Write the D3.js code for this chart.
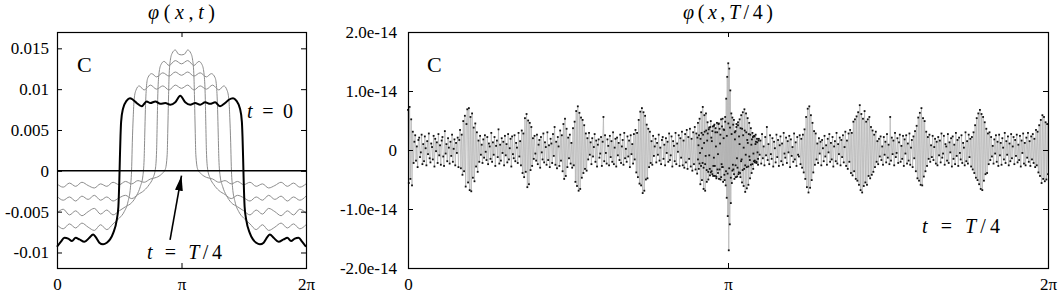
<!DOCTYPE html>
<html>
<head>
<meta charset="utf-8">
<script src="https://cdn.jsdelivr.net/npm/d3@7"></script>
</head>
<body style="margin:0;background:#fff">
<svg id="chart" width="1059" height="294"></svg>
<script>
var serif = "Liberation Serif";

// x tick positions (in radians) and their labels, shared by both panels
var piTicks = [0, Math.PI, 2 * Math.PI],
    piLabels = ["0", "\u03c0", "2\u03c0"];

// left panel y ticks
var leftTicks = [-0.01, -0.005, 0, 0.005, 0.01, 0.015],
    leftLabels = ["-0.01", "-0.005", "0", "0.005", "0.01", "0.015"];

// right panel y ticks
var rightTicks = [-2e-14, -1e-14, 0, 1e-14, 2e-14],
    rightLabels = ["-2.0e-14", "-1.0e-14", "0", "1.0e-14", "2.0e-14"];

// left panel curves: [x in units of pi, phi in units of 1e-3]
var curveT0 = [[0,-9.3],[0.03,-8.7],[0.06,-8.2],[0.09,-8.3],[0.12,-8.6],[0.15,-8.2],[0.18,-8.4],[0.22,-8.7],[0.26,-8.2],[0.29,-7.8],
  [0.31,-8.1],[0.34,-8.8],[0.37,-9.0],[0.40,-8.8],[0.426,-8.4],[0.452,-7.6],[0.48,-6.0],[0.493,-4.4],[0.50,-1.5],[0.505,1.5],
  [0.51,4.2],[0.515,6.0],[0.53,7.6],[0.56,8.6],[0.586,8.9],[0.61,8.7],[0.64,8.3],[0.68,7.9],[0.72,8.5],[0.75,8.3],
  [0.79,8.5],[0.83,8.2],[0.87,8.3],[0.91,8.1],[0.95,8.4],[0.99,9.2],[1.03,8.4],[1.07,8.1],[1.11,8.3],[1.15,8.1],
  [1.19,8.4],[1.23,8.2],[1.27,8.4],[1.31,7.9],[1.35,8.3],[1.38,8.7],[1.414,8.9],[1.44,8.6],[1.47,7.6],[1.485,6.0],
  [1.49,4.2],[1.495,1.5],[1.50,-1.5],[1.507,-4.4],[1.52,-6.0],[1.548,-7.6],[1.574,-8.4],[1.60,-8.8],[1.63,-9.0],[1.66,-8.8],
  [1.69,-8.1],[1.71,-7.8],[1.74,-8.2],[1.78,-8.7],[1.82,-8.4],[1.85,-8.2],[1.88,-8.6],[1.91,-8.3],[1.94,-8.2],[1.97,-8.7],[2.00,-9.3]];

var curveT1 = [[0,-6.6],[0.05,-7.1],[0.10,-6.5],[0.15,-7.0],[0.20,-6.4],[0.25,-6.9],[0.30,-7.3],[0.35,-6.6],[0.40,-7.2],[0.45,-6.5],
  [0.50,-5.8],[0.54,-5.0],[0.57,-3.8],[0.59,-2.0],[0.60,0.5],[0.605,3.5],[0.612,6.5],[0.62,8.8],[0.635,9.9],[0.66,10.4],
  [0.70,9.9],[0.75,10.5],[0.80,10.0],[0.85,10.4],[0.90,9.9],[0.95,10.5],[1.00,10.1],[1.05,10.5],[1.10,9.9],[1.15,10.4],
  [1.20,10.0],[1.25,10.5],[1.30,9.9],[1.34,10.4],[1.365,9.9],[1.38,8.8],[1.388,6.5],[1.395,3.5],[1.40,0.5],[1.41,-2.0],
  [1.43,-3.8],[1.46,-5.0],[1.50,-5.8],[1.55,-6.5],[1.60,-7.2],[1.65,-6.6],[1.70,-7.3],[1.75,-6.9],[1.80,-6.4],[1.85,-7.0],
  [1.90,-6.5],[1.95,-7.1],[2.00,-6.6]];

var curveT2 = [[0,-5.2],[0.05,-4.7],[0.10,-5.4],[0.15,-4.9],[0.20,-5.5],[0.25,-5.0],[0.30,-4.6],[0.35,-5.3],[0.40,-4.8],[0.45,-5.4],
  [0.50,-4.9],[0.55,-4.4],[0.60,-3.9],[0.64,-3.0],[0.67,-1.9],[0.69,-0.6],[0.70,1.5],[0.705,4.5],[0.71,7.5],[0.718,10.2],
  [0.73,11.4],[0.76,11.9],[0.80,11.5],[0.85,12.0],[0.90,11.6],[0.95,12.1],[1.00,11.7],[1.05,12.1],[1.10,11.6],[1.15,12.0],
  [1.20,11.5],[1.24,11.9],[1.27,11.4],[1.282,10.2],[1.29,7.5],[1.295,4.5],[1.30,1.5],[1.31,-0.6],[1.33,-1.9],[1.36,-3.0],
  [1.40,-3.9],[1.45,-4.4],[1.50,-4.9],[1.55,-5.4],[1.60,-4.8],[1.65,-5.3],[1.70,-4.6],[1.75,-5.0],[1.80,-5.5],[1.85,-4.9],
  [1.90,-5.4],[1.95,-4.7],[2.00,-5.2]];

var curveT3 = [[0,-3.1],[0.05,-3.6],[0.10,-3.2],[0.15,-3.7],[0.20,-3.1],[0.25,-3.5],[0.30,-3.0],[0.35,-3.6],[0.40,-3.2],[0.45,-3.7],
  [0.50,-3.3],[0.55,-3.0],[0.60,-3.4],[0.65,-2.9],[0.70,-2.4],[0.74,-1.7],[0.77,-0.9],[0.79,0.2],[0.80,2.5],[0.805,6.0],
  [0.81,9.5],[0.82,12.0],[0.835,13.0],[0.86,13.4],[0.90,12.9],[0.95,13.5],[1.00,13.1],[1.05,13.5],[1.10,12.9],[1.14,13.4],
  [1.165,13.0],[1.18,12.0],[1.19,9.5],[1.195,6.0],[1.20,2.5],[1.21,0.2],[1.23,-0.9],[1.26,-1.7],[1.30,-2.4],[1.35,-2.9],
  [1.40,-3.4],[1.45,-3.0],[1.50,-3.3],[1.55,-3.7],[1.60,-3.2],[1.65,-3.6],[1.70,-3.0],[1.75,-3.5],[1.80,-3.1],[1.85,-3.7],
  [1.90,-3.2],[1.95,-3.6],[2.00,-3.1]];

var curveT4 = [[0,-1.6],[0.05,-2.0],[0.10,-1.5],[0.15,-1.9],[0.20,-1.4],[0.25,-1.8],[0.30,-2.1],[0.35,-1.6],[0.40,-1.9],[0.45,-1.4],
  [0.50,-1.7],[0.55,-1.3],[0.60,-1.6],[0.65,-1.2],[0.70,-1.4],[0.75,-1.0],[0.80,-0.8],[0.84,-0.4],[0.87,0.2],[0.885,2.0],
  [0.89,5.0],[0.895,8.5],[0.90,11.5],[0.91,13.5],[0.925,14.4],[0.95,14.8],[0.975,14.3],[1.00,14.2],[1.025,14.3],[1.05,14.8],
  [1.075,14.4],[1.09,13.5],[1.10,11.5],[1.105,8.5],[1.11,5.0],[1.115,2.0],[1.13,0.2],[1.16,-0.4],[1.20,-0.8],[1.25,-1.0],
  [1.30,-1.4],[1.35,-1.2],[1.40,-1.6],[1.45,-1.3],[1.50,-1.7],[1.55,-1.4],[1.60,-1.9],[1.65,-1.6],[1.70,-2.1],[1.75,-1.8],
  [1.80,-1.4],[1.85,-1.9],[1.90,-1.5],[1.95,-2.0],[2.00,-1.6]];

// t = T/4 (flat at zero on this scale)
var curveQuarter = [[0, 0], [2, 0]];

// right panel: phi(x, T/4) in units of 1e-15, evenly spaced over [0, 2pi]
var noiseVals = [
  6.8,-5.6,7.3,-4.9,5.2,-6.0,3.1,-2.2,1.4,2.5,-1.8,0.6,-2.9,1.7,2.1,-1.2,-0.4,2.6,-2.4,1.0,
  -1.9,2.3,0.3,-2.6,1.5,-0.7,2.8,-1.4,-2.1,1.1,0.5,-1.6,2.4,-2.8,1.9,-0.2,1.3,-2.2,2.7,-0.9,
  0.8,-2.5,1.6,2.2,-1.1,-2.7,3.2,-0.6,1.0,-1.9,2.0,0.4,-2.3,1.4,-1.0,2.6,-2.0,0.2,1.8,-2.6,
  1.2,-0.5,2.1,-2.9,1.7,3.4,-3.1,2.6,-4.2,4.9,-3.6,5.8,-6.2,4.4,6.9,-5.5,7.1,-6.8,5.6,-7.0,
  6.2,-4.7,3.8,-5.3,4.5,-2.8,3.0,-3.7,1.6,-2.0,2.4,-0.8,0.9,-2.2,1.8,-1.3,2.5,-0.3,-1.7,2.2,
  -2.4,1.1,0.6,-1.5,2.9,-2.0,1.3,-0.8,2.2,-2.7,0.7,1.6,-1.2,3.5,-2.3,0.9,-1.8,2.0,-0.5,1.4,
  -2.6,2.4,-0.9,1.0,-2.1,2.7,-1.6,0.3,1.9,-2.8,2.3,-0.7,-1.4,2.5,-1.9,1.2,0.4,-2.2,2.9,-1.1,
  1.5,-2.6,3.3,-3.9,2.8,-4.6,5.4,-3.7,6.1,-6.3,5.0,-5.8,4.6,-3.4,3.9,-2.7,2.0,-1.5,2.4,-0.6,
  -1.8,2.6,-2.4,0.9,1.7,-3.0,2.2,-0.4,-1.6,2.8,-2.1,1.3,0.5,-2.5,3.0,-1.7,0.8,-2.9,1.9,1.1,
  -2.2,2.7,-1.0,3.9,-2.5,1.4,-3.1,2.2,0.6,-2.7,3.3,-1.8,2.5,-3.6,4.4,-4.9,5.3,-4.4,3.6,-2.9,
  2.1,-1.4,2.6,-2.3,1.2,-3.0,3.7,-2.6,4.8,-5.4,6.6,-6.1,7.4,-6.9,6.3,-6.6,5.5,-4.7,5.1,-3.9,
  4.2,-3.2,2.8,-3.5,2.0,-1.6,2.9,-0.8,1.3,-2.4,2.0,-1.1,0.5,2.7,-2.0,1.6,-2.8,0.9,1.8,-1.3,
  -0.6,2.2,-2.7,1.4,5.6,-1.9,2.5,-0.5,-2.3,1.8,0.7,-2.6,2.4,-1.2,1.5,-2.0,3.0,-2.4,0.4,1.9,
  -2.8,2.1,-0.9,1.2,-1.7,2.6,-2.2,0.6,1.7,-2.5,2.9,-1.4,0.2,-2.0,2.3,-1.1,1.6,-2.9,2.5,-0.7,
  1.0,-2.3,2.7,-1.6,3.4,-3.8,2.9,-4.6,5.1,-5.7,6.5,-6.0,7.1,-7.3,6.4,-6.9,5.8,-5.0,4.3,-4.8,
  3.6,-2.9,3.1,-2.2,1.5,-2.5,2.4,-1.0,0.6,1.9,-2.1,1.2,-0.8,2.6,-1.8,0.4,-2.4,1.7,2.2,-1.5,
  0.9,-2.6,2.0,-0.5,1.4,-2.0,2.8,-1.7,-0.9,2.3,-2.8,1.5,0.7,-1.9,2.9,-2.4,1.1,-0.3,2.5,-2.7,
  2.0,-1.3,3.1,-2.6,1.6,-3.0,2.7,-2.1,3.4,-3.2,2.2,-1.5,3.6,-2.8,1.9,-3.5,3.0,-2.4,3.9,-3.3,
  2.8,-4.0,4.6,-3.2,5.3,-5.8,6.4,-5.1,7.3,-6.6,5.9,-6.9,6.2,-5.4,4.7,-5.0,3.8,-4.3,4.9,-3.6,
  3.2,-4.4,4.1,-2.7,3.7,-4.8,3.0,-3.9,4.5,-3.3,2.6,-4.6,4.0,-2.9,3.5,-4.2,4.8,-3.6,2.4,-4.0,
  4.5,-3.1,3.8,-4.7,2.7,-3.5,4.3,-4.1,3.0,-2.6,3.9,-4.5,4.7,-3.8,5.2,-4.6,5.9,-5.5,6.4,-6.1,
  6.9,-7.1,6.2,-6.5,5.4,-5.9,4.6,-4.8,3.7,-3.9,2.9,-3.2,2.4,-1.8,2.6,-2.2,1.3,-2.5,1.9,-0.8,
  1.6,-2.3,2.7,-1.4,0.6,-2.6,2.2,-0.9,3.9,-1.7,1.0,-2.4,2.5,-0.7,-1.5,2.0,-2.8,1.4,0.3,-2.1,
  2.6,-1.2,1.7,-2.7,0.8,2.3,-1.9,1.1,-2.5,2.9,-0.6,-1.3,2.1,-2.2,1.5,-0.4,2.4,-2.9,1.8,-1.0,
  0.5,-2.0,2.8,-1.6,1.3,-2.7,2.2,-0.8,-1.1,2.5,-2.4,1.9,-3.0,2.6,-3.8,3.5,-4.9,5.6,-6.3,7.0,
  -7.2,7.4,-6.4,5.9,-5.1,4.6,-3.8,3.2,-2.5,2.8,-1.6,1.1,-2.2,2.0,-0.6,1.4,-2.6,1.7,0.3,-1.9,
  2.4,-1.1,0.8,-2.5,1.9,-0.4,2.7,-2.0,1.2,-1.6,2.2,-2.8,0.6,1.5,-1.9,2.9,-2.3,1.0,-0.7,2.1,
  -2.6,1.7,-1.2,2.5,-2.1,0.5,3.1,-2.7,1.6,-3.2,2.8,-2.0,3.4,-3.9,2.9,-4.3,4.8,-3.6,5.2,-4.9,
  5.7,-5.2,6.4,-5.9,7.6,-6.8,6.1,-7.2,5.3,-6.1,6.6,-5.5,4.8,-5.9,5.2,-4.4,5.6,-4.8,3.9,-4.2,
  3.3,-3.7,2.6,-2.9,3.1,-2.0,1.5,-2.4,1.9,-1.1,2.3,-1.7,0.6,-2.5,2.2,-0.8,1.4,-2.1,2.7,-1.3,
  0.9,-2.4,5.6,-1.8,2.1,-0.7,1.6,-2.6,2.9,-1.2,-0.5,2.0,-2.2,1.3,2.6,-2.0,0.7,-1.5,2.4,-2.7,
  1.8,-0.6,2.5,-2.3,1.1,-1.8,2.8,-2.5,0.4,1.7,-2.9,2.3,-1.4,3.2,-3.6,4.1,-4.8,5.5,-5.2,6.3,
  -5.9,7.1,-6.0,5.4,-4.5,4.9,-3.6,3.1,-2.7,2.2,-1.5,2.6,-2.0,0.8,-1.2,2.4,-1.7,0.5,1.9,-2.3,
  1.4,-2.6,2.2,-0.9,1.6,-2.1,2.8,-1.3,-0.6,2.4,-2.5,1.0,0.6,-1.8,2.7,-2.2,1.3,-0.4,2.0,-2.8,
  2.3,-1.5,0.9,-2.4,2.9,-1.0,1.7,-2.7,2.1,-0.5,-1.6,2.5,-2.2,1.2,0.4,-2.6,3.0,-1.9,1.5,-2.3,
  2.6,-1.2,1.9,-2.8,2.2,-3.3,3.0,-3.9,4.2,-4.7,5.4,-5.1,6.2,-5.8,6.8,-6.6,6.1,-6.8,5.6,-5.2,
  4.7,-4.1,3.6,-3.9,2.8,-2.4,3.0,-1.7,2.2,-1.1,0.7,-2.3,1.8,-0.6,2.5,-2.0,1.4,-2.7,2.6,-0.9,
  1.2,-2.5,2.0,0.4,-1.6,2.9,-2.2,1.5,-0.8,2.3,-2.6,1.1,-1.9,2.7,-1.4,0.6,2.2,-2.4,1.7,-1.0,
  2.6,-2.1,0.9,-1.7,2.4,-2.8,1.6,-0.5,2.8,-2.3,1.2,-2.6,2.1,-1.3,2.9,-2.0,1.5,-2.7,2.3,-1.6,
  2.7,-2.2,1.9,-2.9,3.4,-2.6,3.1,-3.8,4.2,-4.4,5.1,-5.6,5.9,-4.9,5.6,-5.3,4.7,-5.0,4.4,-4.1
];

// denser samples near x = pi, in units of 1e-15, evenly spaced over [pi - 0.3, pi + 0.3]
var centerVals = [
  2.1,-1.6,0.8,2.5,-2.3,-0.5,1.9,-2.7,2.9,0.3,-2.2,2.6,-3.0,1.2,3.1,-2.4,-1.0,3.3,-3.4,1.6,
  2.8,-3.7,3.5,-0.9,-3.2,3.9,-3.8,2.1,1.5,-4.1,4.0,-2.7,-1.3,4.3,-4.4,3.0,0.6,-4.5,4.6,-3.3,
  -0.7,4.4,-4.9,3.6,1.1,-5.0,5.2,-2.4,-2.9,5.3,-5.4,2.0,3.4,-5.1,5.6,-6.0,8.7,-8.1,12.4,-11.2,
  14.7,-17.0,13.8,-12.6,10.1,-9.0,6.2,-5.6,5.5,-2.5,-3.3,5.1,-4.9,1.8,3.2,-4.6,4.4,-1.4,-3.0,4.2,
  -4.1,2.3,1.0,-3.9,3.7,-1.9,-1.6,3.6,-3.4,2.5,0.4,-3.2,3.3,-2.6,-0.8,3.0,-2.9,1.7,1.2,-2.8,
  2.7,-1.1,-1.7,2.6,-2.5,0.9,1.8,-2.4,2.2,-0.6,-1.9,2.3,-2.1,1.0,1.4,-2.0,1.9,-0.4,-1.5,1.6
];

var svg = d3.select("#chart");

var L = {left: 57, right: 306, top: 32, bottom: 268},
    R = {left: 408, right: 1048, top: 32, bottom: 268};

var xL = d3.scaleLinear().domain([0, 2 * Math.PI]).range([L.left, L.right]),
    yL = d3.scaleLinear().domain([-0.0119, 0.0170]).range([L.bottom, L.top]);
var xR = d3.scaleLinear().domain([0, 2 * Math.PI]).range([R.left, R.right]),
    yR = d3.scaleLinear().domain([-2e-14, 2e-14]).range([R.bottom, R.top]);

// frame with inward ticks on all four sides
function frame(x, y, box, yTicks, yLabels, yPad) {
  var fmtX = function(d, i) { return piLabels[i]; },
      fmtY = function(d, i) { return yLabels[i]; },
      none = function() { return ""; };
  var axes = [
    [d3.axisBottom(x).tickValues(piTicks).tickFormat(fmtX).tickPadding(10), "translate(0," + box.bottom + ")"],
    [d3.axisTop(x).tickValues(piTicks).tickFormat(none), "translate(0," + box.top + ")"],
    [d3.axisLeft(y).tickValues(yTicks).tickFormat(fmtY).tickPadding(yPad), "translate(" + box.left + ",0)"],
    [d3.axisRight(y).tickValues(yTicks).tickFormat(none), "translate(" + box.right + ",0)"]
  ];
  axes.forEach(function(a) {
    var g = svg.append("g")
        .attr("transform", a[1])
        .call(a[0].tickSizeInner(-5).tickSizeOuter(0));
    g.select(".domain").remove();
    g.attr("font-family", serif).attr("font-size", 17);
    g.selectAll(".tick line").attr("stroke", "#000").attr("stroke-width", 1);
    g.selectAll(".tick text")
        .attr("fill", "#000")
        .attr("font-family", serif)
        .attr("font-size", 17)
        .style("font-family", serif)
        .style("font-size", "17px");
  });
  svg.append("rect")
      .attr("x", box.left + 0.5)
      .attr("y", box.top + 0.5)
      .attr("width", box.right - box.left)
      .attr("height", box.bottom - box.top)
      .attr("fill", "none")
      .attr("stroke", "#000")
      .attr("stroke-width", 1.2);
}

// math-style label built from [text, italic] pieces, stretched to a given width
function mathText(x, y, parts, width, anchor, size) {
  var t = svg.append("text")
      .attr("x", x)
      .attr("y", y)
      .attr("text-anchor", anchor)
      .attr("font-family", serif)
      .attr("font-size", size)
      .style("font-family", serif)
      .style("font-size", size + "px")
      .attr("textLength", width)
      .attr("lengthAdjust", "spacing");
  parts.forEach(function(p) {
    t.append("tspan")
        .style("font-style", p[1] ? "italic" : "normal")
        .text(p[0]);
  });
  return t;
}

function plainText(x, y, s, size) {
  svg.append("text")
      .attr("x", x)
      .attr("y", y)
      .attr("font-family", serif)
      .attr("font-size", size)
      .style("font-family", serif)
      .style("font-size", size + "px")
      .text(s);
}

// ---------- left panel ----------
var lineL = d3.line()
    .x(function(d) { return xL(d[0] * Math.PI); })
    .y(function(d) { return yL(d[1] * 1e-3); })
    .curve(d3.curveMonotoneX);

[curveT1, curveT2, curveT3, curveT4].forEach(function(c) {
  svg.append("path")
      .datum(c)
      .attr("d", lineL)
      .attr("fill", "none")
      .attr("stroke", "#8c8c8c")
      .attr("stroke-width", 1);
});

svg.append("path")
    .datum(curveQuarter)
    .attr("d", lineL)
    .attr("fill", "none")
    .attr("stroke", "#000")
    .attr("stroke-width", 1.5);

svg.append("path")
    .datum(curveT0)
    .attr("d", lineL)
    .attr("fill", "none")
    .attr("stroke", "#000")
    .attr("stroke-width", 2);

frame(xL, yL, L, leftTicks, leftLabels, 8);

// arrow pointing at the t = T/4 line
svg.append("defs").append("marker")
    .attr("id", "head")
    .attr("markerUnits", "userSpaceOnUse")
    .attr("markerWidth", 15)
    .attr("markerHeight", 8)
    .attr("refX", 15)
    .attr("refY", 4)
    .attr("orient", "auto")
  .append("path")
    .attr("d", "M0,0L15,4L0,8Z")
    .attr("fill", "#000");

svg.append("line")
    .attr("x1", xL(0.908 * Math.PI))
    .attr("y1", yL(-0.00846))
    .attr("x2", xL(Math.PI))
    .attr("y2", yL(-0.0006))
    .attr("stroke", "#000")
    .attr("stroke-width", 1.6)
    .attr("marker-end", "url(#head)");

plainText(xL(0.16 * Math.PI), yL(0.0121), "C", 22);

mathText(xL(1.526 * Math.PI), yL(0.0065), [["t", 1], [" = 0", 0]], 46, "start", 20);
mathText(xL(0.723 * Math.PI), yL(-0.01078), [["t", 1], [" = ", 0], ["T", 1], ["/4", 0]], 75, "start", 20);
mathText(xL(Math.PI), L.top - 13, [["\u03c6", 1], ["(", 0], ["x", 1], [",", 0], ["t", 1], [")", 0]], 67, "middle", 20);

// ---------- right panel ----------
var N = noiseVals.length,
    M = centerVals.length;
var mainPts = noiseVals.map(function(v, i) { return [i / (N - 1) * 2 * Math.PI, v * 1e-15]; });
var centerPts = centerVals.map(function(v, i) { return [Math.PI - 0.3 + i / (M - 1) * 0.6, v * 1e-15]; });

var lineR = d3.line()
    .x(function(d) { return xR(d[0]); })
    .y(function(d) { return yR(d[1]); });

[mainPts, centerPts].forEach(function(pts) {
  svg.append("path")
      .datum(pts)
      .attr("d", lineR)
      .attr("fill", "none")
      .attr("stroke", "#b0b0b0")
      .attr("stroke-width", 0.7);
});

svg.append("g")
  .selectAll("rect")
  .data(mainPts.concat(centerPts))
  .join("rect")
    .attr("x", function(d) { return xR(d[0]) - 0.9; })
    .attr("y", function(d) { return yR(d[1]) - 0.9; })
    .attr("width", 1.8)
    .attr("height", 1.8)
    .attr("fill", "#111");

frame(xR, yR, R, rightTicks, rightLabels, 11);

plainText(xR(0.059 * Math.PI), yR(1.32e-14), "C", 22);

mathText(xR(1.606 * Math.PI), yR(-1.407e-14), [["t", 1], [" = ", 0], ["T", 1], ["/4", 0]], 78, "start", 20);
mathText(xR(Math.PI), R.top - 13, [["\u03c6", 1], ["(", 0], ["x", 1], [",", 0], ["T", 1], ["/4)", 0]], 90, "middle", 20);
</script>
</body>
</html>
